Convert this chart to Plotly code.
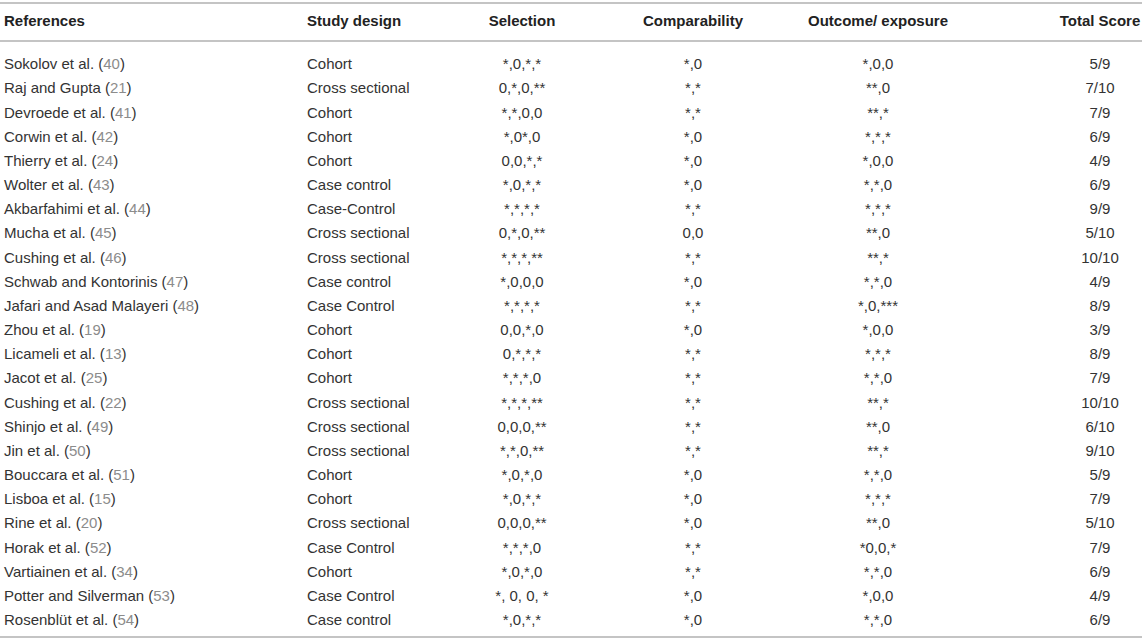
import plotly.graph_objects as go

# ---------------- data ----------------
headers = ["References", "Study design", "Selection", "Comparability",
           "Outcome/ exposure", "Total Score"]

authors = ["Sokolov et al.", "Raj and Gupta", "Devroede et al.", "Corwin et al.",
           "Thierry et al.", "Wolter et al.", "Akbarfahimi et al.", "Mucha et al.",
           "Cushing et al.", "Schwab and Kontorinis", "Jafari and Asad Malayeri",
           "Zhou et al.", "Licameli et al.", "Jacot et al.", "Cushing et al.",
           "Shinjo et al.", "Jin et al.", "Bouccara et al.", "Lisboa et al.",
           "Rine et al.", "Horak et al.", "Vartiainen et al.", "Potter and Silverman",
           "Rosenblüt et al."]
ref_nums = [40, 21, 41, 42, 24, 43, 44, 45, 46, 47, 48, 19, 13, 25, 22, 49, 50,
            51, 15, 20, 52, 34, 53, 54]
study_design = ["Cohort", "Cross sectional", "Cohort", "Cohort", "Cohort",
                "Case control", "Case-Control", "Cross sectional", "Cross sectional",
                "Case control", "Case Control", "Cohort", "Cohort", "Cohort",
                "Cross sectional", "Cross sectional", "Cross sectional", "Cohort",
                "Cohort", "Cross sectional", "Case Control", "Cohort", "Case Control",
                "Case control"]
selection = ["*,0,*,*", "0,*,0,**", "*,*,0,0", "*,0*,0", "0,0,*,*", "*,0,*,*",
             "*,*,*,*", "0,*,0,**", "*,*,*,**", "*,0,0,0", "*,*,*,*", "0,0,*,0",
             "0,*,*,*", "*,*,*,0", "*,*,*,**", "0,0,0,**", "*,*,0,**", "*,0,*,0",
             "*,0,*,*", "0,0,0,**", "*,*,*,0", "*,0,*,0", "*, 0, 0, *", "*,0,*,*"]
comparability = ["*,0", "*,*", "*,*", "*,0", "*,0", "*,0", "*,*", "0,0", "*,*",
                 "*,0", "*,*", "*,0", "*,*", "*,*", "*,*", "*,*", "*,*", "*,0",
                 "*,0", "*,0", "*,*", "*,*", "*,0", "*,0"]
outcome = ["*,0,0", "**,0", "**,*", "*,*,*", "*,0,0", "*,*,0", "*,*,*", "**,0",
           "**,*", "*,*,0", "*,0,***", "*,0,0", "*,*,*", "*,*,0", "**,*", "**,0",
           "**,*", "*,*,0", "*,*,*", "**,0", "*0,0,*", "*,*,0", "*,0,0", "*,*,0"]
total_score = ["5/9", "7/10", "7/9", "6/9", "4/9", "6/9", "9/9", "5/10", "10/10",
               "4/9", "8/9", "3/9", "8/9", "7/9", "10/10", "6/10", "9/10", "5/9",
               "7/9", "5/10", "7/9", "6/9", "4/9", "6/9"]

# ---------------- layout constants ----------------
W, H = 1142, 642
FONT = "Liberation Sans, Arial, sans-serif"
FS = 15
TXT = "#333333"
REFC = "#8c8c8c"
RULE = "#c4c4c4"

ROW0 = 65.5      # centre of first body row (px)
ROWH = 24.17     # row pitch (px)
HEAD_Y = 22.5
col_x = [4, 307, 522, 693, 878, 1100]
col_pos = ["middle right", "middle right", "middle center", "middle center",
           "middle center", "middle center"]

n = len(authors)
row_y = [ROW0 + i * ROWH for i in range(n)]

ref_text = [f"{a} (<span style='color:{REFC}'>{r}</span>)" for a, r in zip(authors, ref_nums)]
columns = [ref_text, study_design, selection, comparability, outcome, total_score]

fig = go.Figure()

for cx, pos, vals in zip(col_x, col_pos, columns):
    fig.add_trace(go.Scatter(
        x=[cx] * n, y=row_y, mode="text", text=vals, textposition=pos,
        textfont=dict(family=FONT, size=FS, color=TXT),
        hoverinfo="skip", showlegend=False, cliponaxis=False))

# header
fig.add_trace(go.Scatter(
    x=col_x, y=[HEAD_Y] * len(headers), mode="text",
    text=[f"<b>{h}</b>" for h in headers], textposition=col_pos,
    textfont=dict(family=FONT, size=FS, color="#222222"),
    hoverinfo="skip", showlegend=False, cliponaxis=False))

for yy in [3, 41, 637]:
    fig.add_shape(type="line", xref="x", yref="y", x0=0, x1=W, y0=yy, y1=yy,
                  line=dict(color=RULE, width=2))

fig.update_layout(
    width=W, height=H, margin=dict(l=0, r=0, t=0, b=0),
    paper_bgcolor="white", plot_bgcolor="white",
    xaxis=dict(range=[0, W], visible=False, fixedrange=True),
    yaxis=dict(range=[H, 0], visible=False, fixedrange=True),
)

fig.write_html("out.html", config={"displayModeBar": False},
               post_script="document.body.style.margin='0';document.body.style.overflow='hidden';")
